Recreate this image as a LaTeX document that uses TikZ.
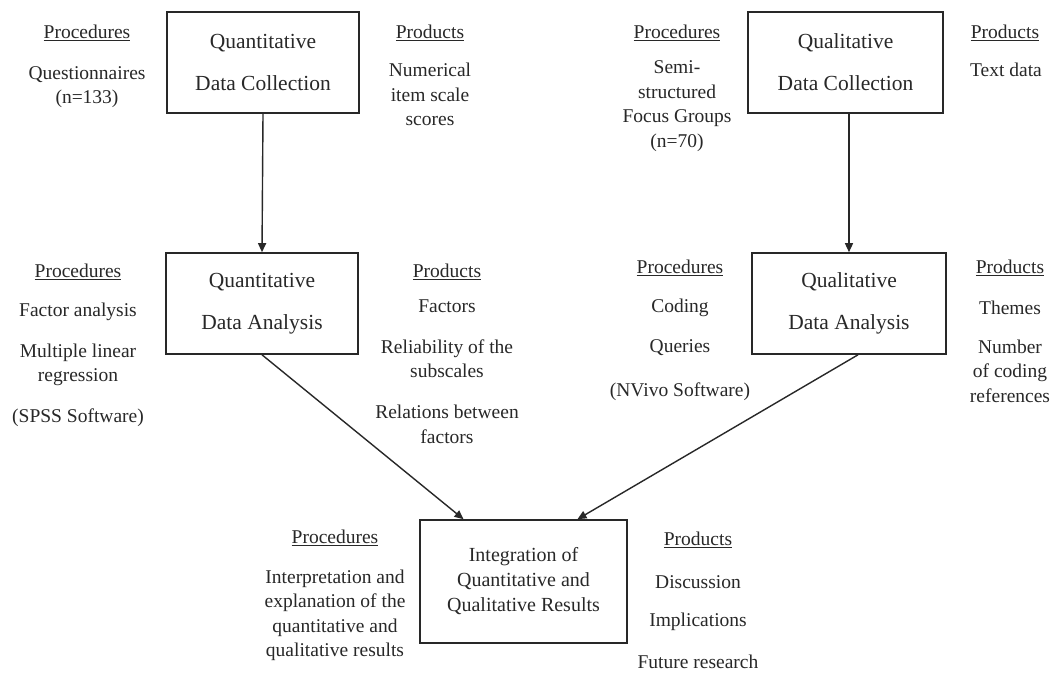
\documentclass[tikz,border=0pt]{standalone}
\usepackage{fontspec}
\setmainfont{Liberation Serif}
\usetikzlibrary{arrows.meta}
\definecolor{ink}{RGB}{40,40,40}
\begin{document}
\begin{tikzpicture}[x=1pt,y=-1pt,
  stage/.style={draw=ink, line width=1.6pt, text=ink, align=center, inner sep=0pt,
    font=\fontsize{21.5}{42}\selectfont},
  result/.style={stage, font=\fontsize{20}{25}\selectfont},
  hdr/.style={text=ink, inner sep=0pt, font=\fontsize{19.5}{24.5}\selectfont},
  item/.style={text=ink, align=center, inner sep=0pt, font=\fontsize{19.5}{24.5}\selectfont},
  flow/.style={draw=ink, line width=1.4pt, -{Triangle[length=9pt,width=8pt]}}]
\useasboundingbox[fill=white] (0,0) rectangle (1054,672);

% --- stage boxes ---
\node[stage, minimum width=192pt, minimum height=101pt] (qnc) at (263,62.5) {Quantitative\\Data Collection};
\node[stage, minimum width=192pt, minimum height=101pt] (qna) at (262,303.5) {Quantitative\\Data Analysis};
\node[stage, minimum width=195pt, minimum height=101pt] (qlc) at (845.5,62.5) {Qualitative\\Data Collection};
\node[stage, minimum width=194pt, minimum height=101pt] (qla) at (849,303.5) {Qualitative\\Data Analysis};
\node[result, minimum width=207pt, minimum height=123pt] (int) at (523.5,581.5) {Integration of\\Quantitative and\\Qualitative Results};

% --- quantitative data collection ---
\node[hdr] (p1) at (87,33) {\underline{Procedures}};
\node[item] (p1a) at (87,87) {Questionnaires\\(n=133)};
\node[hdr] (r1) at (430,33) {\underline{Products}};
\node[item] (r1a) at (430,94.5) {Numerical\\item scale\\scores};

% --- qualitative data collection ---
\node[hdr] (p3) at (677,33) {\underline{Procedures}};
\node[item] (p3a) at (677,106) {Semi-\\structured\\Focus Groups\\(n=70)};
\node[hdr] (r3) at (1005,33) {\underline{Products}};
\node[item] (r3a) at (1006,70) {Text data};

% --- quantitative data analysis ---
\node[hdr] (p2) at (78,272) {\underline{Procedures}};
\node[item] (p2a) at (78,312) {Factor analysis};
\node[item] (p2b) at (78,365) {Multiple linear\\regression};
\node[item] (p2c) at (78,418) {(SPSS Software)};
\node[hdr] (r2) at (447,272) {\underline{Products}};
\node[item] (r2a) at (447,306) {Factors};
\node[item] (r2b) at (447,358.5) {Reliability of the\\subscales};
\node[item] (r2c) at (447,424.5) {Relations between\\factors};

% --- qualitative data analysis ---
\node[hdr] (p4) at (680,268) {\underline{Procedures}};
\node[item] (p4a) at (680,308) {Coding};
\node[item] (p4b) at (680,348) {Queries};
\node[item] (p4c) at (680,392) {(NVivo Software)};
\node[hdr] (r4) at (1010,268) {\underline{Products}};
\node[item] (r4a) at (1010,308) {Themes};
\node[item] (r4b) at (1010,371) {Number\\of coding\\references};

% --- integration ---
\node[hdr] (p5) at (335,538) {\underline{Procedures}};
\node[item] (p5a) at (335,615.5) {Interpretation and\\explanation of the\\quantitative and\\qualitative results};
\node[hdr] (r5) at (698,540) {\underline{Products}};
\node[item] (r5a) at (698,582) {Discussion};
\node[item] (r5b) at (698,622) {Implications};
\node[item] (r5c) at (698,662) {Future research};

% --- connectors ---
\coordinate (qlaout) at ([xshift=9pt]qla.south);
\coordinate (intL) at ([xshift=-60pt]int.north);
\coordinate (intR) at ([xshift=54pt]int.north);
\draw[flow] (qnc.south) -- (qna.north);
\draw[flow] (qlc.south -| qla.north) -- (qla.north);
\draw[flow] (qna.south) -- (intL);
\draw[flow] (qlaout) -- (intR);
\end{tikzpicture}
\end{document}
